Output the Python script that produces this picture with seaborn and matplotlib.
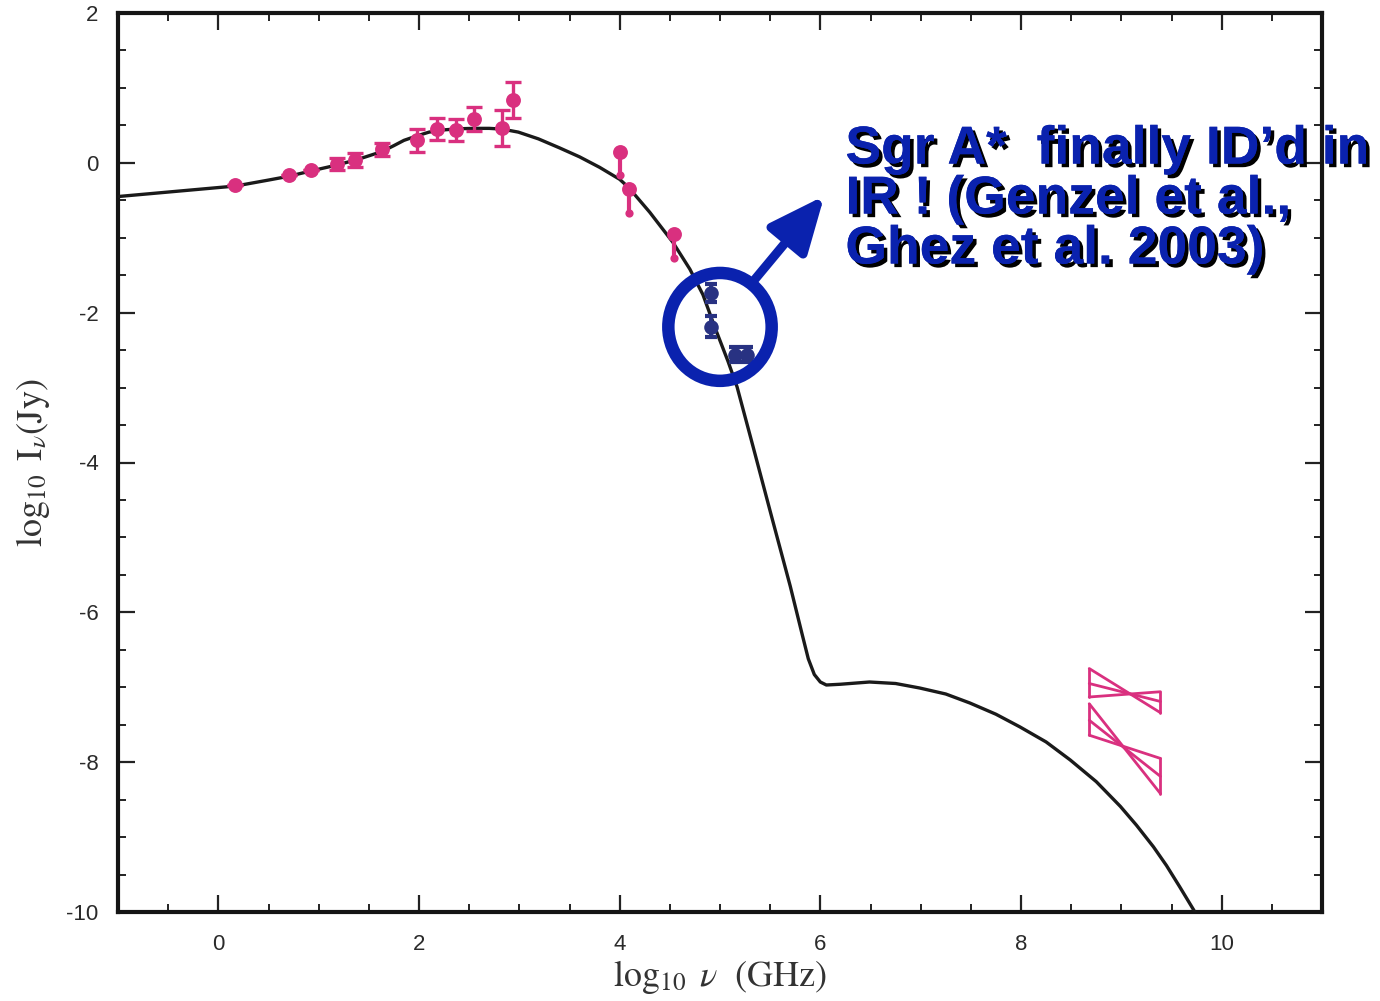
import numpy as np
import pandas as pd
import matplotlib
matplotlib.use("Agg")
import matplotlib.pyplot as plt
import matplotlib.patheffects as pe
from matplotlib.patches import Ellipse
from matplotlib.ticker import MultipleLocator
import seaborn as sns

# ---------------- data ----------------
curve_x = [-1.0, -0.5, 0.0, 0.17, 0.5, 0.70, 0.95, 1.18, 1.40, 1.63, 1.75, 1.85,
           1.98, 2.10, 2.25, 2.40, 2.55, 2.70, 2.83, 2.99, 3.19, 3.40, 3.60, 3.80,
           4.00, 4.09, 4.30, 4.53, 4.70, 4.83, 4.95, 5.08, 5.17, 5.33, 5.51, 5.70,
           5.82, 5.88, 5.94, 6.00, 6.06, 6.20, 6.49, 6.75, 6.99, 7.25, 7.49, 7.75,
           7.99, 8.25, 8.49, 8.75, 8.99, 9.15, 9.32, 9.45, 9.58, 9.72, 9.74]
curve_y = [-0.45, -0.39, -0.33, -0.31, -0.23, -0.18, -0.10, -0.03, 0.05, 0.15, 0.23, 0.30,
           0.36, 0.41, 0.44, 0.455, 0.46, 0.46, 0.45, 0.41, 0.32, 0.20, 0.08, -0.06,
           -0.22, -0.33, -0.66, -1.06, -1.42, -1.76, -2.20, -2.65, -2.99, -3.79, -4.70, -5.65,
           -6.30, -6.62, -6.83, -6.93, -6.97, -6.96, -6.93, -6.95, -7.01, -7.09, -7.21, -7.36,
           -7.53, -7.73, -7.97, -8.26, -8.59, -8.84, -9.13, -9.38, -9.66, -9.97, -10.02]

radio_x = [0.17, 0.70, 0.92, 1.18, 1.36, 1.63, 1.98, 2.18, 2.37, 2.55, 2.83, 2.94]
radio_y = [-0.30, -0.16, -0.10, -0.01, 0.04, 0.18, 0.30, 0.45, 0.44, 0.59, 0.46, 0.84]
radio_err = [0.0, 0.0, 0.0, 0.08, 0.09, 0.09, 0.15, 0.15, 0.15, 0.16, 0.24, 0.24]

submm_x = [4.00, 4.09, 4.54]
submm_y = [0.14, -0.35, -0.95]
submm_lo = [0.30, 0.32, 0.32]

ir_x = [4.91, 4.91, 5.15, 5.27]
ir_y = [-1.74, -2.19, -2.56, -2.56]
ir_err = [0.12, 0.14, 0.10, 0.10]

bowtie_x = [8.68, 9.39]
bowtie1_left = [-6.75, -6.95, -7.13]
bowtie1_right = [-7.34, -7.19, -7.06]
bowtie2_left = [-7.22, -7.44, -7.64]
bowtie2_right = [-8.42, -8.19, -7.95]

x_ticks = [0, 2, 4, 6, 8, 10]
y_ticks = [-10, -8, -6, -4, -2, 0, 2]

note_lines = ["Sgr A*  finally ID\u2019d in", "IR ! (Genzel et al.,", "Ghez et al. 2003)"]

# ---------------- style ----------------
sns.set_theme(style="white")
plt.rcParams['font.family'] = ['Liberation Sans', 'DejaVu Sans']
plt.rcParams['mathtext.fontset'] = 'stix'

PINK = "#D9307F"
NAVY = "#283282"
BLUE = "#0A22AE"

fig = plt.figure(figsize=(13.8, 10.01), dpi=100)
ax = fig.add_axes([118/1380, 1 - 912/1001, (1322 - 118)/1380, (912 - 13)/1001])
ax.set_facecolor("white")

# model curve
curve_df = pd.DataFrame({"x": curve_x, "y": curve_y})
sns.lineplot(data=curve_df, x="x", y="y", sort=False, estimator=None,
             color="#1a1a1a", lw=2.4, ax=ax, zorder=3)

# radio points
ax.errorbar(radio_x, radio_y, yerr=radio_err, fmt="none", ecolor=PINK,
            elinewidth=2.4, capsize=6, capthick=2.4, zorder=4)
sns.scatterplot(x=radio_x, y=radio_y, color=PINK, s=115, linewidth=0, ax=ax, zorder=5)

# submm points (lower bars only)
ax.errorbar(submm_x, submm_y, yerr=[submm_lo, [0]*len(submm_lo)], fmt="none",
            ecolor=PINK, elinewidth=3.0, capsize=0, zorder=4)
sns.scatterplot(x=submm_x, y=np.array(submm_y) - np.array(submm_lo), color=PINK,
                s=35, linewidth=0, ax=ax, zorder=5)
sns.scatterplot(x=submm_x, y=submm_y, color=PINK, s=115, linewidth=0, ax=ax, zorder=5)

# IR points
ax.errorbar(ir_x, ir_y, yerr=ir_err, fmt="none", ecolor=NAVY,
            elinewidth=2.8, capsize=4.5, capthick=3, zorder=4)
sns.scatterplot(x=ir_x, y=ir_y, color=NAVY, s=110, linewidth=0, ax=ax, zorder=5)

# X-ray bowties
for left, right in [(bowtie1_left, bowtie1_right), (bowtie2_left, bowtie2_right)]:
    for yl, yr in zip(left, right):
        ax.plot(bowtie_x, [yl, yr], color=PINK, lw=2.0, zorder=4)
    ax.plot([bowtie_x[0], bowtie_x[0]], [min(left), max(left)], color=PINK, lw=2.0, zorder=4)
    ax.plot([bowtie_x[1], bowtie_x[1]], [min(right), max(right)], color=PINK, lw=2.0, zorder=4)

# axes
ax.set_xlim(-1, 11)
ax.set_ylim(-10, 2)
ax.xaxis.set_minor_locator(MultipleLocator(0.5))
ax.yaxis.set_minor_locator(MultipleLocator(0.5))
ax.set_xticks(x_ticks)
ax.set_yticks(y_ticks)
ax.set_xticklabels([str(t) for t in x_ticks])
ax.set_yticklabels([str(t) for t in y_ticks])
ax.tick_params(which="both", direction="in", top=True, right=True, bottom=True, left=True,
               color="#222222", labelcolor="#2a2a2a", labelsize=16)
ax.tick_params(which="major", length=12, width=1.6)
ax.tick_params(which="minor", length=6, width=1.4)
ax.tick_params(axis="x", which="major", pad=16)
ax.tick_params(axis="y", which="major", pad=14)
for sp in ax.spines.values():
    sp.set_linewidth(3.0)
    sp.set_color("#151515")
    sp.set_visible(True)

ax.set_xlabel(r"$\log_{10}\ \nu\ \ (\mathrm{GHz})$", fontsize=26, color="#333333", labelpad=2)
ax.set_ylabel(r"$\log_{10}\ \mathrm{I}_{\nu}(\mathrm{Jy})$", fontsize=26, color="#333333", labelpad=10)

# annotation circle + arrow
ell = Ellipse((5.0, -2.19), width=1.03, height=1.44, fill=False, edgecolor=BLUE,
              lw=9, zorder=6)
ax.add_patch(ell)
ax.annotate("", xy=(6.04, -0.44), xytext=(5.32, -1.60),
            arrowprops=dict(arrowstyle="-|>,head_length=1.7,head_width=0.75",
                            lw=6.5, color=BLUE, mutation_scale=20,
                            shrinkA=0, shrinkB=0), zorder=6)

shadow = [pe.withSimplePatchShadow(offset=(2.6, -2.6), shadow_rgbFace="black", alpha=1.0),
          pe.Normal()]
for i, line in enumerate(note_lines):
    ax.text(6.25, -0.01 - i * 0.667, line, fontsize=38.5, fontweight="bold", color=BLUE,
            ha="left", va="baseline", clip_on=False, zorder=7, path_effects=shadow,
            family=["Liberation Sans", "DejaVu Sans"])

fig.savefig("out.png", dpi=100, facecolor="white")
